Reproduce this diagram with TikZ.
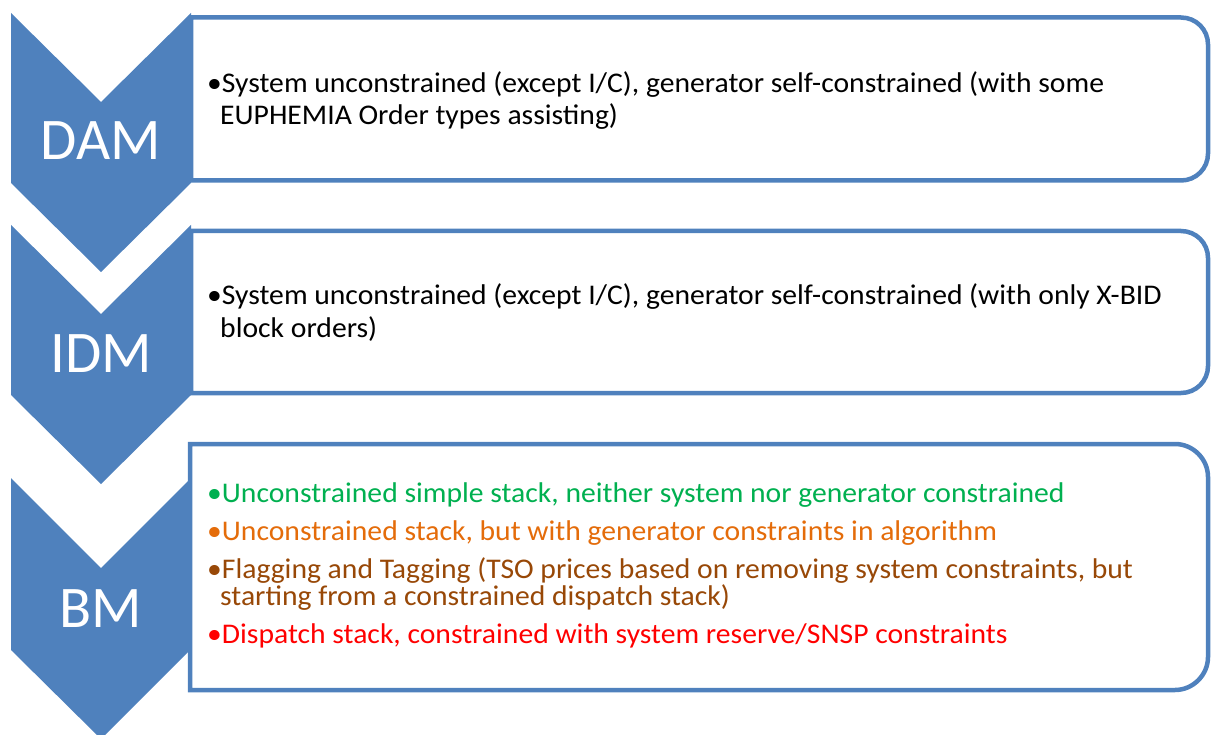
\documentclass[tikz,border=0pt]{standalone}
\usepackage{fontspec}
\setmainfont{Carlito}
\newfontfamily\bodyfont[FakeStretch=1.04]{Carlito}
\definecolor{accblue}{HTML}{4F81BD}
\definecolor{bgreen}{HTML}{00B050}
\definecolor{borange}{HTML}{E46C0A}
\definecolor{bbrown}{HTML}{984807}
\definecolor{bred}{HTML}{FF0000}
\begin{document}
\begin{tikzpicture}[x=1pt,y=-1pt,
  chev/.style={fill=accblue,draw=none},
  boxline/.style={draw=accblue,line width=4.5pt,fill=white},
  lab/.style={text=white,font=\fontsize{59}{66}\selectfont,inner sep=0pt},
  bodyA/.style={anchor=base west,inner sep=0pt,font=\bodyfont\fontsize{28.5}{32}\selectfont},
  bodyB/.style={anchor=base west,inner sep=0pt,font=\bodyfont\fontsize{28.5}{32}\selectfont}]
\useasboundingbox (0,0) rectangle (1212,735);
% boxes
\draw[boxline] (191,17.5) -- (1181,17.5) .. controls (1196,17.5) and (1208,29.5) .. (1208,44.5) -- (1208,153.5) .. controls (1208,168.5) and (1196,180.5) .. (1181,180.5) -- (191,180.5) -- cycle;
\draw[boxline] (191,231) -- (1181,231) .. controls (1196,231) and (1208,243) .. (1208,258) -- (1208,366) .. controls (1208,381) and (1196,393) .. (1181,393) -- (191,393) -- cycle;
\draw[boxline] (190,444) -- (1175,444) .. controls (1193,444) and (1208,459) .. (1208,477) -- (1208,657) .. controls (1208,675) and (1193,690) .. (1175,690) -- (190,690) -- cycle;
% chevrons
\path[chev] (11,13) -- (101,102) -- (191,13) -- (191,183) -- (101,272) -- (11,183) -- cycle;
\path[chev] (11,225) -- (101,314) -- (191,225) -- (191,395) -- (101,484) -- (11,395) -- cycle;
\path[chev] (11,478) -- (101,568) -- (188,481) -- (188,652) -- (101,739) -- (11,650) -- cycle;
% labels
\node[lab] (dam) at (101,141) {DAM};
\node[lab] (idm) at (101,354) {IDM};
\node[lab] (bm) at (101,609) {BM};
% texts
\node[bodyA] (d1) at (207,93) {•System unconstrained (except I/C), generator self-constrained (with some};
\node[bodyA] (d2) at (220,125) {EUPHEMIA Order types assisting)};
\node[bodyA] (i1) at (207,305) {•System unconstrained (except I/C), generator self-constrained (with only X-BID};
\node[bodyA] (i2) at (220,337) {block orders)};
\node[bodyB,text=bgreen] (b1) at (207,502) {•Unconstrained simple stack, neither system nor generator constrained};
\node[bodyB,text=borange] (b2) at (207,540) {•Unconstrained stack, but with generator constraints in algorithm};
\node[bodyB,text=bbrown] (b3) at (207,578) {•Flagging and Tagging (TSO prices based on removing system constraints, but};
\node[bodyB,text=bbrown] (b4) at (220,605) {starting from a constrained dispatch stack)};
\node[bodyB,text=bred] (b5) at (207,643) {•Dispatch stack, constrained with system reserve/SNSP constraints};
\end{tikzpicture}
\end{document}
